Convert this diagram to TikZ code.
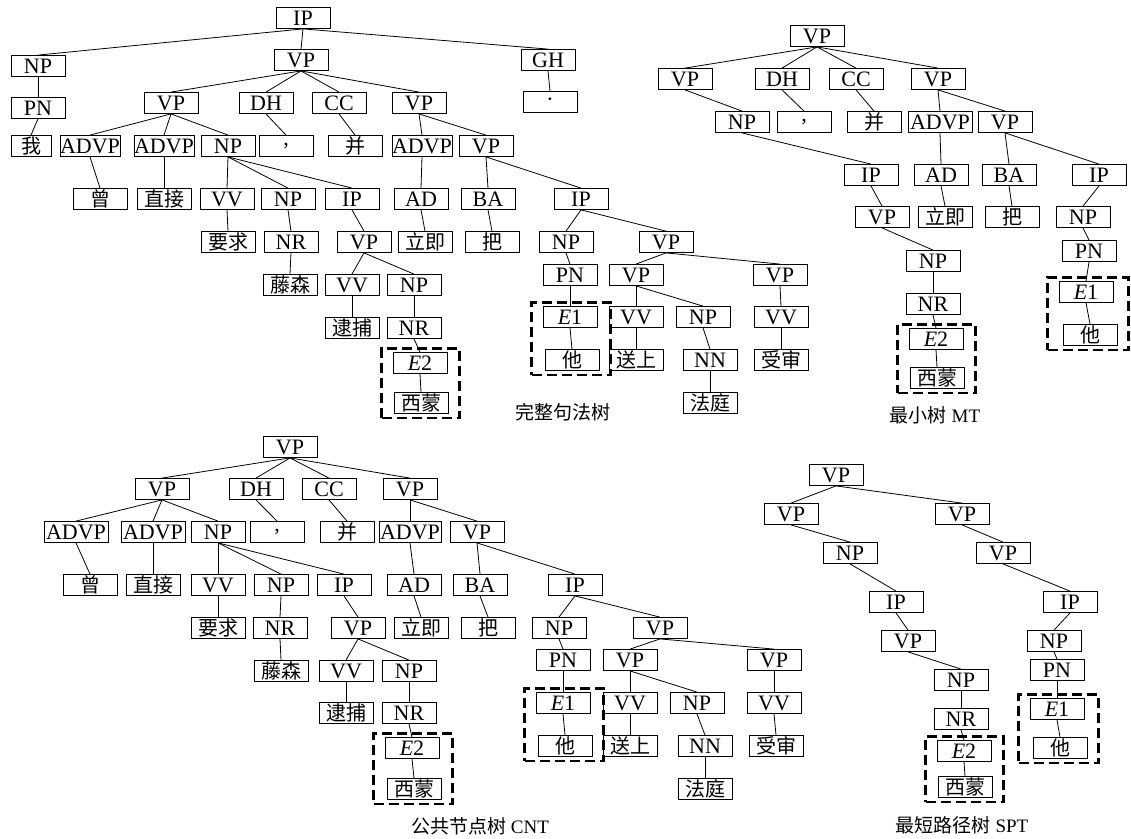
\documentclass[tikz,border=0pt]{standalone}
\usepackage{fontspec}
\setmainfont{Liberation Serif}
\newfontfamily\cjk{Noto Sans CJK SC}
\usetikzlibrary{fit}

\tikzset{
  tag/.style={draw, fill=white, line width=0.8pt, minimum width=54pt, minimum height=21pt,
    inner sep=0pt, font=\fontsize{22}{22}\selectfont},
  word/.style={tag, font=\cjk\fontsize{20}{20}\selectfont},
  link/.style={line width=0.8pt},
  entbox/.style={draw, line width=2.8pt, dash pattern=on 10pt off 5pt, inner xsep=11pt, inner ysep=4pt},
  caption/.style={font=\fontsize{19}{19}\selectfont}
}

\begin{document}
\begin{tikzpicture}[x=1pt,y=-1pt]
\useasboundingbox (0,0) rectangle (1131,838);

% full parse tree
\node[tag] (a0) at (303,18) {IP};
\node[tag] (a1) at (38,66) {NP};
\node[tag] (a2) at (301,60) {VP};
\node[tag] (a3) at (548,60) {GH};
\node[tag] (a4) at (38,108) {PN};
\node[tag] (a5) at (171,103) {VP};
\node[tag] (a6) at (266,103) {DH};
\node[tag] (a7) at (339,103) {CC};
\node[tag] (a8) at (419,103) {VP};
\node[tag] (a9) at (550,102) {·};
\node[word, minimum width=40pt] (a10) at (31,146) {我};
\node[tag, minimum width=60pt] (a11) at (90,146) {ADVP};
\node[tag, minimum width=58pt] (a12) at (164,146) {ADVP};
\node[tag] (a13) at (228,146) {NP};
\node[tag] (a14) at (286,146) {,};
\node[word] (a15) at (355,146) {并};
\node[tag, minimum width=60pt] (a16) at (422,146) {ADVP};
\node[tag] (a17) at (486,146) {VP};
\node[word] (a18) at (100,199) {曾};
\node[word] (a19) at (164,199) {直接};
\node[tag] (a20) at (227,199) {VV};
\node[tag] (a21) at (288,199) {NP};
\node[tag] (a22) at (352,199) {IP};
\node[tag] (a23) at (421,199) {AD};
\node[tag] (a24) at (488,199) {BA};
\node[tag] (a25) at (581,199) {IP};
\node[word] (a26) at (228,242) {要求};
\node[tag] (a27) at (291,242) {NR};
\node[tag] (a28) at (364,242) {VP};
\node[word] (a29) at (425,242) {立即};
\node[word] (a30) at (492,242) {把};
\node[tag] (a31) at (566,242) {NP};
\node[tag] (a32) at (666,242) {VP};
\node[word] (a33) at (290,285) {藤森};
\node[tag] (a34) at (352,285) {VV};
\node[tag] (a35) at (414,285) {NP};
\node[tag] (a36) at (570,275) {PN};
\node[tag] (a37) at (636,275) {VP};
\node[tag] (a38) at (780,275) {VP};
\node[word] (a39) at (352,328) {逮捕};
\node[tag] (a40) at (414,328) {NR};
\node[tag] (a41) at (570,317) {\textit{E}1};
\node[tag] (a42) at (636,317) {VV};
\node[tag] (a43) at (703,317) {NP};
\node[tag] (a44) at (781,317) {VV};
\node[tag] (a45) at (420,363) {\textit{E}2};
\node[word] (a46) at (421,403) {西蒙};
\node[word] (a47) at (572,360) {他};
\node[word] (a48) at (636,360) {送上};
\node[tag] (a49) at (710,360) {NN};
\node[word] (a50) at (781,360) {受审};
\node[word] (a51) at (710,403) {法庭};
\foreach \p/\c in {a0/a1,a0/a2,a0/a3,a1/a4,a4/a10,a2/a5,a2/a6,a2/a7,a2/a8,a3/a9,
    a5/a11,a5/a12,a5/a13,a6/a14,a7/a15,a8/a16,a8/a17,a11/a18,a12/a19,a13/a20,
    a13/a21,a13/a22,a16/a23,a17/a24,a17/a25,a20/a26,a21/a27,a22/a28,a23/a29,
    a24/a30,a25/a31,a25/a32,a27/a33,a28/a34,a28/a35,a31/a36,a32/a37,a32/a38,
    a34/a39,a35/a40,a36/a41,a37/a42,a37/a43,a38/a44,a40/a45,a45/a46,a41/a47,
    a42/a48,a43/a49,a44/a50,a49/a51}
  \draw[link] (\p.south) -- (\c.north);
\node[entbox, fit=(a45)(a46)] (boxA2) {};
\node[entbox, fit=(a41)(a47)] (boxA1) {};
\node[caption] (capA) at (563,412) {\cjk 完整句法树};

% minimal tree
\node[tag] (b0) at (817,36) {VP};
\node[tag] (b1) at (685,79) {VP};
\node[tag] (b2) at (782,79) {DH};
\node[tag] (b3) at (856,79) {CC};
\node[tag] (b4) at (938,79) {VP};
\node[tag] (b5) at (742,122) {NP};
\node[tag] (b6) at (804,122) {,};
\node[word] (b7) at (874,122) {并};
\node[tag, minimum width=64pt] (b8) at (940,122) {ADVP};
\node[tag] (b9) at (1005,122) {VP};
\node[tag] (b10) at (871,175) {IP};
\node[tag] (b11) at (941,175) {AD};
\node[tag] (b12) at (1009,175) {BA};
\node[tag] (b13) at (1099,175) {IP};
\node[tag] (b14) at (882,217) {VP};
\node[word] (b15) at (945,217) {立即};
\node[word] (b16) at (1012,217) {把};
\node[tag] (b17) at (1083,217) {NP};
\node[tag] (b18) at (933,261) {NP};
\node[tag] (b19) at (1089,251) {PN};
\node[tag] (b20) at (933,304) {NR};
\node[tag] (b21) at (1086,292) {\textit{E}1};
\node[tag] (b22) at (936,339) {\textit{E}2};
\node[word] (b23) at (1090,335) {他};
\node[word] (b24) at (937,378) {西蒙};
\foreach \p/\c in {b0/b1,b0/b2,b0/b3,b0/b4,b1/b5,b2/b6,b3/b7,b4/b8,b4/b9,b5/b10,
    b8/b11,b9/b12,b9/b13,b10/b14,b11/b15,b12/b16,b13/b17,b14/b18,b17/b19,
    b18/b20,b19/b21,b20/b22,b21/b23,b22/b24}
  \draw[link] (\p.south) -- (\c.north);
\node[entbox, fit=(b22)(b24)] (boxB2) {};
\node[entbox, fit=(b21)(b23)] (boxB1) {};
\node[caption] (capB) at (935,415) {{\cjk 最小树} MT};

% common node tree
\node[tag] (c0) at (290,447) {VP};
\node[tag] (c1) at (162,489) {VP};
\node[tag] (c2) at (256,489) {DH};
\node[tag] (c3) at (329,489) {CC};
\node[tag] (c4) at (410,489) {VP};
\node[tag, minimum width=64pt] (c5) at (76,532) {ADVP};
\node[tag, minimum width=64pt] (c6) at (153,532) {ADVP};
\node[tag] (c7) at (218,532) {NP};
\node[tag] (c8) at (277,532) {,};
\node[word] (c9) at (347,532) {并};
\node[tag, minimum width=62pt] (c10) at (410,532) {ADVP};
\node[tag] (c11) at (477,532) {VP};
\node[word] (c12) at (90,585) {曾};
\node[word] (c13) at (153,585) {直接};
\node[tag] (c14) at (218,585) {VV};
\node[tag] (c15) at (281,585) {NP};
\node[tag] (c16) at (344,585) {IP};
\node[tag] (c17) at (414,585) {AD};
\node[tag] (c18) at (480,585) {BA};
\node[tag] (c19) at (575,585) {IP};
\node[word] (c20) at (218,628) {要求};
\node[tag] (c21) at (280,628) {NR};
\node[tag] (c22) at (358,628) {VP};
\node[word] (c23) at (421,628) {立即};
\node[word] (c24) at (488,628) {把};
\node[tag] (c25) at (559,628) {NP};
\node[tag] (c26) at (660,628) {VP};
\node[word] (c27) at (281,671) {藤森};
\node[tag] (c28) at (346,671) {VV};
\node[tag] (c29) at (409,671) {NP};
\node[tag] (c30) at (563,660) {PN};
\node[tag] (c31) at (630,660) {VP};
\node[tag] (c32) at (774,660) {VP};
\node[word] (c33) at (346,713) {逮捕};
\node[tag] (c34) at (409,713) {NR};
\node[tag] (c35) at (563,703) {\textit{E}1};
\node[tag] (c36) at (630,703) {VV};
\node[tag] (c37) at (697,703) {NP};
\node[tag] (c38) at (774,703) {VV};
\node[tag] (c39) at (412,748) {\textit{E}2};
\node[word] (c40) at (414,789) {西蒙};
\node[word] (c41) at (565,746) {他};
\node[word] (c42) at (630,746) {送上};
\node[tag] (c43) at (705,746) {NN};
\node[word] (c44) at (776,746) {受审};
\node[word] (c45) at (705,789) {法庭};
\foreach \p/\c in {c0/c1,c0/c2,c0/c3,c0/c4,c1/c5,c1/c6,c1/c7,c2/c8,c3/c9,c4/c10,
    c4/c11,c5/c12,c6/c13,c7/c14,c7/c15,c7/c16,c10/c17,c11/c18,c11/c19,c14/c20,
    c15/c21,c16/c22,c17/c23,c18/c24,c19/c25,c19/c26,c21/c27,c22/c28,c22/c29,
    c25/c30,c26/c31,c26/c32,c28/c33,c29/c34,c30/c35,c31/c36,c31/c37,c32/c38,
    c34/c39,c39/c40,c35/c41,c36/c42,c37/c43,c38/c44,c43/c45}
  \draw[link] (\p.south) -- (\c.north);
\node[entbox, fit=(c39)(c40)] (boxC2) {};
\node[entbox, fit=(c35)(c41)] (boxC1) {};
\node[caption] (capC) at (480,826) {{\cjk 公共节点树} CNT};

% shortest path tree
\node[tag] (d0) at (836,475) {VP};
\node[tag] (d1) at (791,514) {VP};
\node[tag] (d2) at (962,514) {VP};
\node[tag] (d3) at (850,553) {NP};
\node[tag] (d4) at (1003,553) {VP};
\node[tag] (d5) at (896,602) {IP};
\node[tag] (d6) at (1070,602) {IP};
\node[tag] (d7) at (908,641) {VP};
\node[tag] (d8) at (1054,641) {NP};
\node[tag] (d9) at (961,680) {NP};
\node[tag] (d10) at (1057,670) {PN};
\node[tag] (d11) at (961,719) {NR};
\node[tag] (d12) at (1057,709) {\textit{E}1};
\node[tag] (d13) at (964,751) {\textit{E}2};
\node[word] (d14) at (1060,748) {他};
\node[word] (d15) at (965,787) {西蒙};
\foreach \p/\c in {d0/d1,d0/d2,d1/d3,d2/d4,d3/d5,d4/d6,d5/d7,d6/d8,d7/d9,
    d8/d10,d9/d11,d10/d12,d11/d13,d12/d14,d13/d15}
  \draw[link] (\p.south) -- (\c.north);
\node[entbox, fit=(d13)(d15)] (boxD2) {};
\node[entbox, fit=(d12)(d14)] (boxD1) {};
\node[caption] (capD) at (962,825) {{\cjk 最短路径树} SPT};
\end{tikzpicture}
\end{document}
